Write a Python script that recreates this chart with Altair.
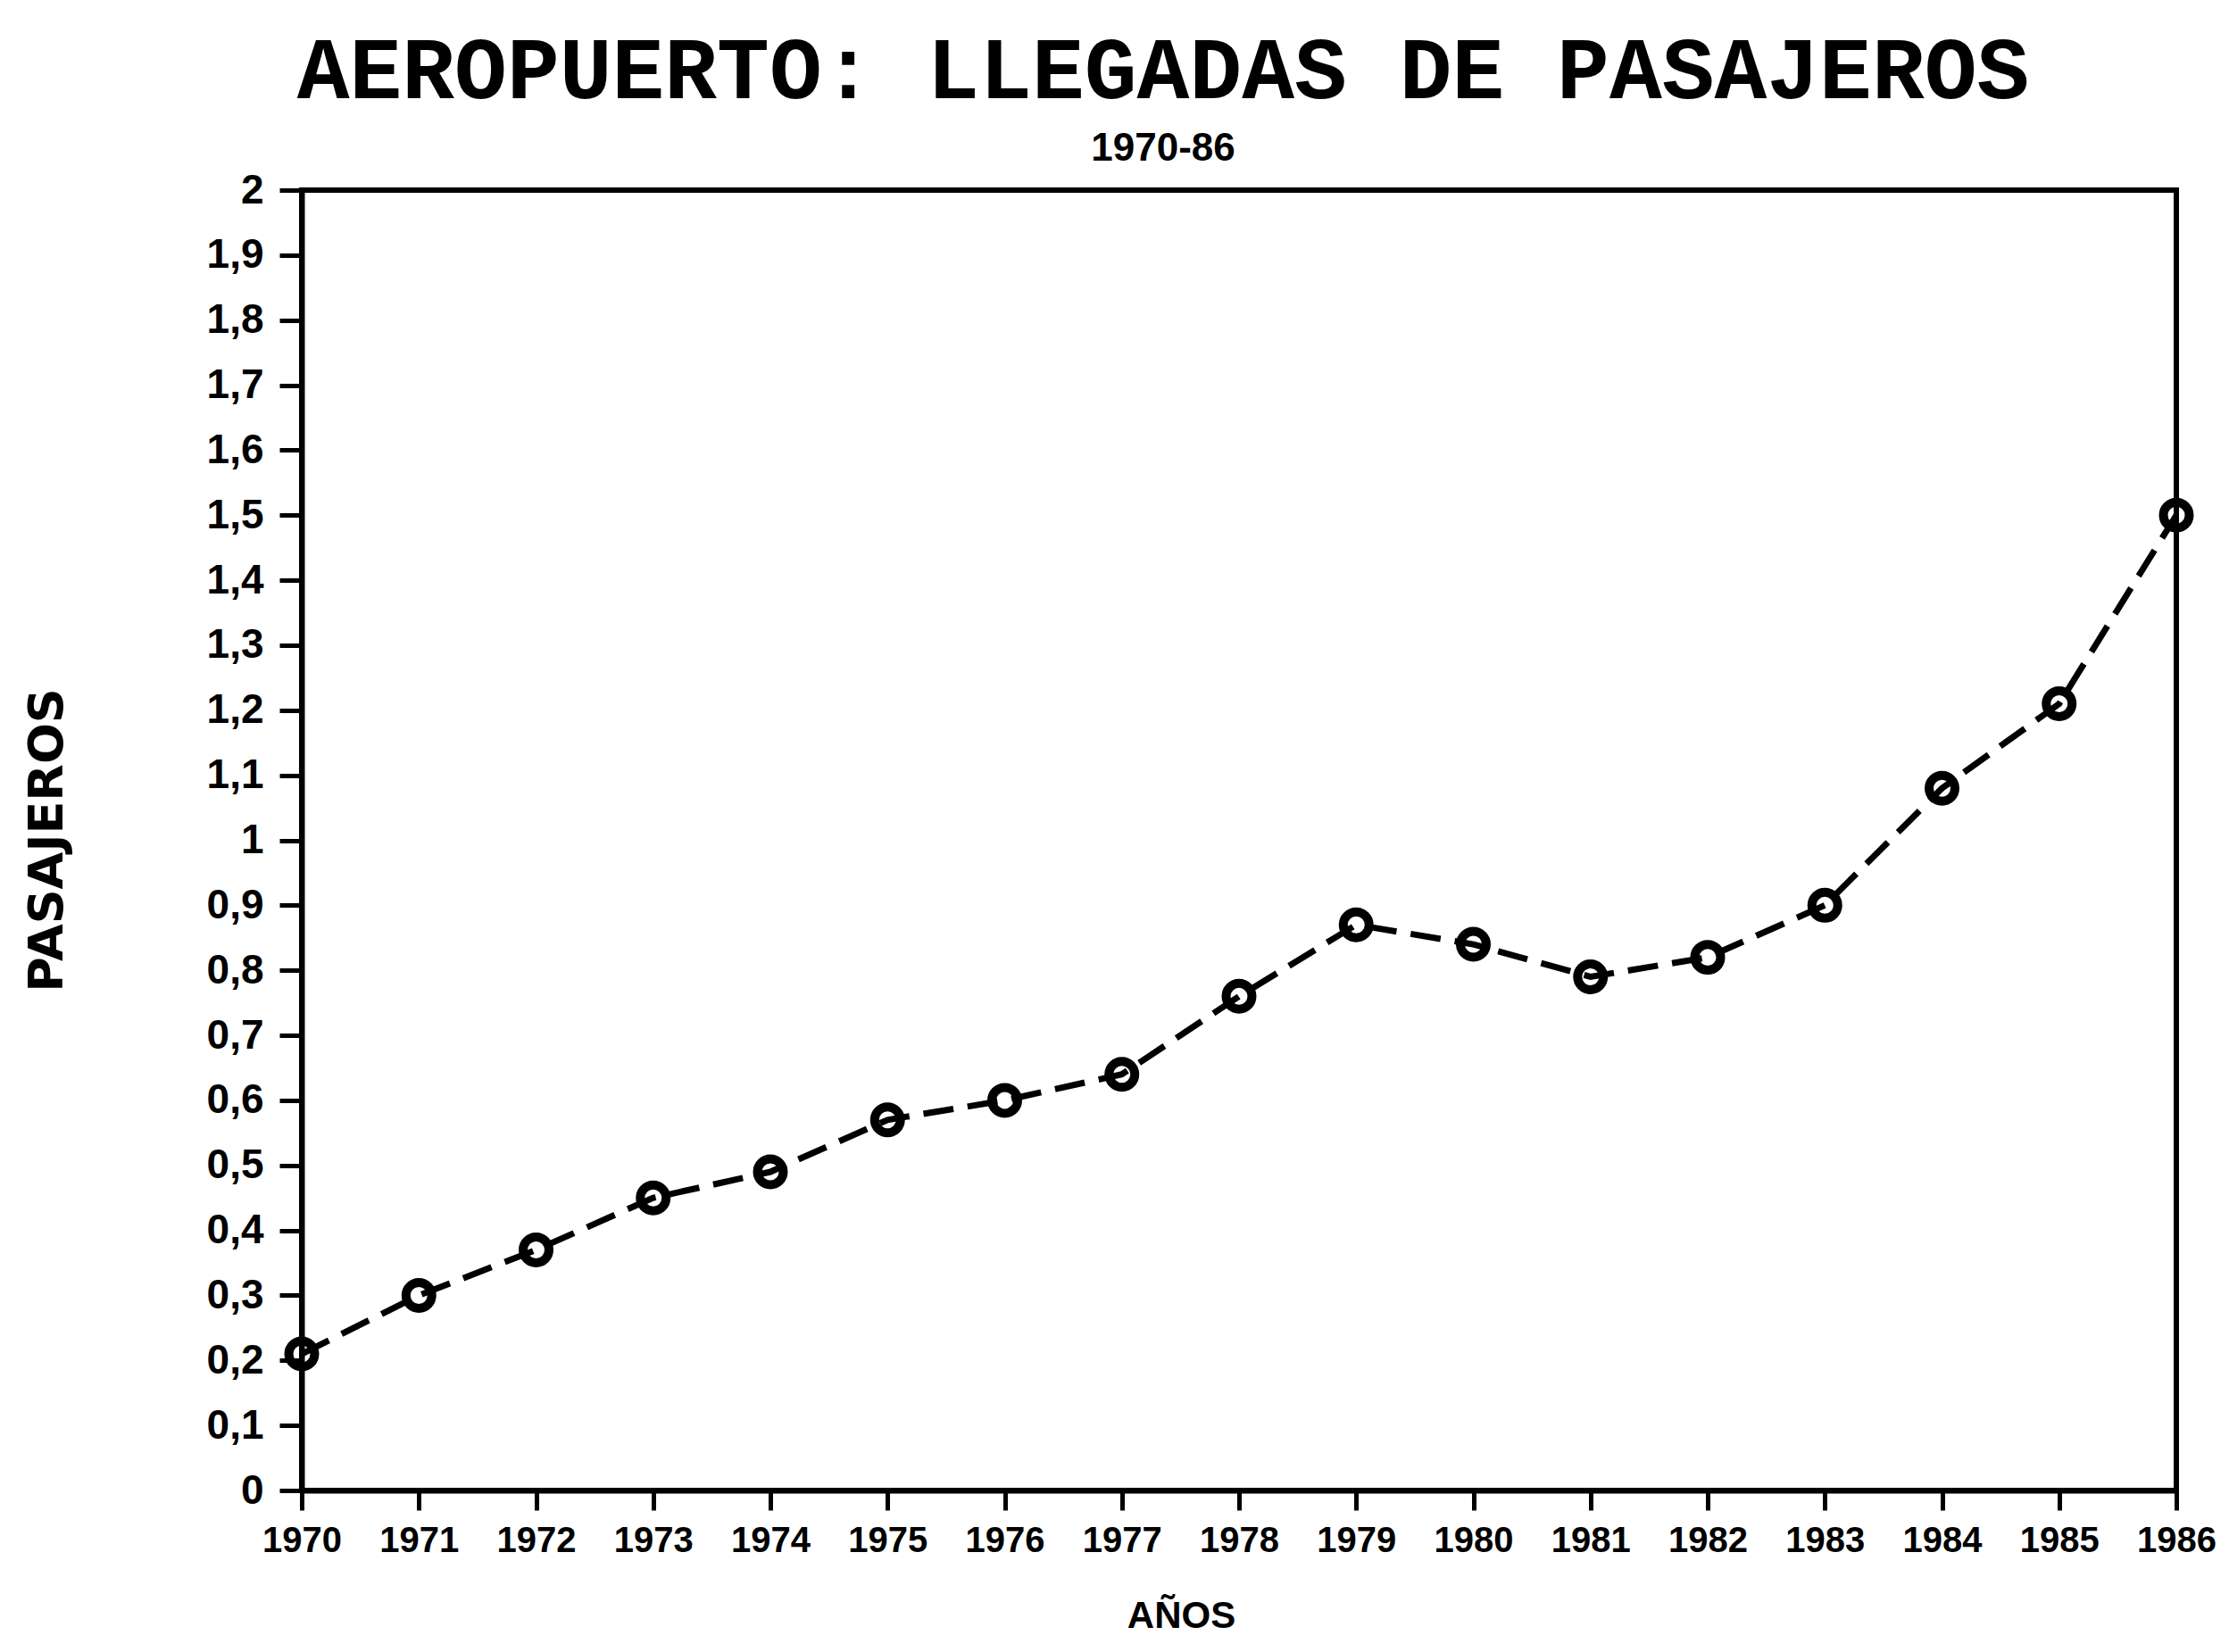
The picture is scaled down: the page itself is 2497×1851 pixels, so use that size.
import altair as alt
import pandas as pd

years = [1970, 1971, 1972, 1973, 1974, 1975, 1976, 1977, 1978,
         1979, 1980, 1981, 1982, 1983, 1984, 1985, 1986]
pasajeros = [0.21, 0.30, 0.37, 0.45, 0.49, 0.57, 0.60, 0.64, 0.76,
             0.87, 0.84, 0.79, 0.82, 0.90, 1.08, 1.21, 1.50]
y_tick_values = [0.0, 0.1, 0.2, 0.3, 0.4, 0.5, 0.6, 0.7, 0.8, 0.9, 1.0,
                 1.1, 1.2, 1.3, 1.4, 1.5, 1.6, 1.7, 1.8, 1.9, 2.0]
title_text = "AEROPUERTO: LLEGADAS DE PASAJEROS"
subtitle_text = "1970-86"
x_title = "AÑOS"
y_title = "PASAJEROS"

df = pd.DataFrame({"year": years, "value": pasajeros})

W, H = 2100, 1457
label_font = "Liberation Sans"

x_enc = alt.X(
    "year:Q",
    scale=alt.Scale(domain=[1970, 1986], nice=False, zero=False),
    axis=alt.Axis(
        values=years, format="d", title=x_title, grid=False,
        labelFont=label_font, labelFontSize=40, labelFontWeight="bold",
        labelPadding=14, tickSize=22, tickWidth=5, labelFlush=False,
        labelOverlap=False, labelColor="black", tickColor="black",
        domainColor="black", domainWidth=6,
        titleFont="Liberation Sans", titleFontSize=42, titleFontWeight="bold",
        titleColor="black",
        titleX=985, titleY=140, titleAnchor="start", titleAlign="center",
        titleBaseline="middle",
    ),
)
y_enc = alt.Y(
    "value:Q",
    scale=alt.Scale(domain=[0, 2], nice=False),
    axis=alt.Axis(
        values=y_tick_values, grid=False,
        labelExpr="replace(format(datum.value, '.1~f'), '.', ',')",
        title=y_title,
        labelFont=label_font, labelFontSize=46, labelFontWeight="bold",
        labelPadding=18, tickSize=25, tickWidth=5, labelFlush=False,
        labelOverlap=False, labelColor="black", tickColor="black",
        domainColor="black", domainWidth=6,
        titleFont="DejaVu Sans", titleFontSize=54, titleFontWeight="bold",
        titleColor="black",
        titleAngle=270, titleX=-285, titleY=728, titleAlign="center",
        titleBaseline="middle", titleAnchor="start",
    ),
)

line = alt.Chart(df).mark_line(
    color="black", strokeWidth=7, strokeDash=[34, 16]
).encode(x=x_enc, y=y_enc)

points = alt.Chart(df).mark_point(
    shape="circle", filled=False, color="black", strokeWidth=10, size=840,
    opacity=1
).encode(x="year:Q", y="value:Q")

chart = (
    alt.layer(line, points)
    .properties(
        width=W,
        height=H,
        background="white",
        title=alt.TitleParams(
            text=title_text,
            subtitle=subtitle_text,
            font="Liberation Mono",
            fontSize=98,
            fontWeight="bold",
            color="black",
            subtitleFont="Liberation Sans",
            subtitleFontSize=44,
            subtitleFontWeight="bold",
            subtitleColor="black",
            subtitlePadding=14,
            anchor="middle",
            frame="group",
            dx=-85,
            offset=0,
        ),
        autosize=alt.AutoSizeParams(type="none"),
        padding={"left": 330, "top": 205, "right": 46, "bottom": 170},
    )
    .configure_view(stroke="black", strokeWidth=6)
)

chart.save("out.html", embed_options={"renderer": "svg", "actions": False})
